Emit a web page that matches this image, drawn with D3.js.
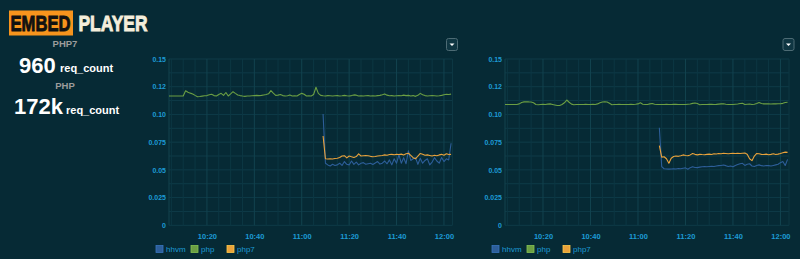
<!DOCTYPE html>
<html>
<head>
<meta charset="utf-8">
<script src="https://cdn.jsdelivr.net/npm/d3@7"></script>
<style>
body { margin: 0; background: #062a35; }
svg text { font-family: "Liberation Sans", Arial, sans-serif; }
</style>
</head>
<body>
<svg id="chart" width="800" height="259"></svg>
<script>
// series names and colours
const seriesNames = ["hhvm", "php", "php7"];
const seriesColors = ["#2d5e99", "#6b9e43", "#e9a23b"];

// time axis
const startTime = "10:04";     // first php sample
const newStart = "11:09";      // first hhvm / php7 sample
const endTime = "12:03.6";
const xTickLabels = ["10:20", "10:40", "11:00", "11:20", "11:40", "12:00"];
const yTicks = [0, 0.025, 0.05, 0.075, 0.1, 0.125, 0.15];
const yTickLabels = ["0", "0.025", "0.05", "0.075", "0.10", "0.12", "0.15"];

// left panel (one value per minute)
const php1 = [
  0.1166, 0.1166, 0.1166, 0.1166, 0.1166, 0.1166, 0.1166, 0.1214, 0.1200, 0.1192,
  0.1185, 0.1172, 0.1160, 0.1162, 0.1165, 0.1168, 0.1170, 0.1178, 0.1182, 0.1170,
  0.1166, 0.1180, 0.1190, 0.1172, 0.1198, 0.1166, 0.1185, 0.1205, 0.1190, 0.1176,
  0.1170, 0.1166, 0.1163, 0.1166, 0.1166, 0.1168, 0.1170, 0.1172, 0.1170, 0.1172,
  0.1176, 0.1180, 0.1186, 0.1215, 0.1192, 0.1172, 0.1174, 0.1180, 0.1170, 0.1166,
  0.1168, 0.1176, 0.1166, 0.1168, 0.1166, 0.1180, 0.1190, 0.1182, 0.1166, 0.1168,
  0.1166, 0.1180, 0.1245, 0.1190, 0.1172, 0.1168, 0.1166, 0.1170, 0.1168, 0.1166,
  0.1168, 0.1170, 0.1166, 0.1168, 0.1172, 0.1168, 0.1166, 0.1170, 0.1176, 0.1174,
  0.1166, 0.1168, 0.1166, 0.1168, 0.1170, 0.1166, 0.1168, 0.1166, 0.1170, 0.1172,
  0.1178, 0.1185, 0.1174, 0.1168, 0.1170, 0.1166, 0.1168, 0.1170, 0.1168, 0.1174,
  0.1170, 0.1172, 0.1166, 0.1170, 0.1163, 0.1172, 0.1190, 0.1178, 0.1170, 0.1166,
  0.1168, 0.1170, 0.1168, 0.1166, 0.1168, 0.1172, 0.1178, 0.1182, 0.1180, 0.1183
];
const php7_1 = [
  0.0805, 0.0600, 0.0598, 0.0600, 0.0598, 0.0603, 0.0605, 0.0612, 0.0625, 0.0628,
  0.0608, 0.0625, 0.0618, 0.0612, 0.0620, 0.0645, 0.0625, 0.0628, 0.0630, 0.0628,
  0.0622, 0.0618, 0.0620, 0.0625, 0.0628, 0.0630, 0.0635, 0.0632, 0.0638, 0.0640,
  0.0636, 0.0640, 0.0638, 0.0642, 0.0635, 0.0645, 0.0650, 0.0630, 0.0610, 0.0600,
  0.0625, 0.0648, 0.0640, 0.0632, 0.0635, 0.0630, 0.0625, 0.0632, 0.0628, 0.0635,
  0.0640, 0.0632, 0.0645, 0.0638, 0.0640
];
const hhvm1 = [
  0.1004, 0.0560, 0.0545, 0.0535, 0.0550, 0.0540, 0.0545, 0.0560, 0.0540, 0.0575,
  0.0550, 0.0545, 0.0580, 0.0550, 0.0570, 0.0545, 0.0560, 0.0565, 0.0550, 0.0555,
  0.0560, 0.0548, 0.0562, 0.0575, 0.0552, 0.0560, 0.0580, 0.0555, 0.0590, 0.0545,
  0.0600, 0.0560, 0.0635, 0.0560, 0.0610, 0.0555, 0.0672, 0.0585, 0.0600, 0.0610,
  0.0550, 0.0605, 0.0560, 0.0585, 0.0600, 0.0545, 0.0570, 0.0610, 0.0580, 0.0560,
  0.0612, 0.0575, 0.0600, 0.0590, 0.0740
];

// right panel
const php2 = [
  0.1090, 0.1089, 0.1090, 0.1089, 0.1090, 0.1090, 0.1095, 0.1108, 0.1113, 0.1115,
  0.1113, 0.1112, 0.1105, 0.1090, 0.1088, 0.1090, 0.1092, 0.1090, 0.1093, 0.1095,
  0.1090, 0.1085, 0.1080, 0.1080, 0.1090, 0.1105, 0.1130, 0.1110, 0.1093, 0.1088,
  0.1090, 0.1090, 0.1089, 0.1090, 0.1091, 0.1090, 0.1090, 0.1092, 0.1090, 0.1095,
  0.1105, 0.1112, 0.1115, 0.1112, 0.1100, 0.1088, 0.1090, 0.1090, 0.1091, 0.1090,
  0.1089, 0.1090, 0.1090, 0.1091, 0.1090, 0.1092, 0.1095, 0.1105, 0.1092, 0.1090,
  0.1090, 0.1095, 0.1098, 0.1092, 0.1090, 0.1089, 0.1090, 0.1090, 0.1091, 0.1090,
  0.1090, 0.1091, 0.1092, 0.1090, 0.1090, 0.1089, 0.1090, 0.1092, 0.1094, 0.1100,
  0.1103, 0.1098, 0.1088, 0.1089, 0.1090, 0.1090, 0.1091, 0.1092, 0.1090, 0.1091,
  0.1093, 0.1095, 0.1096, 0.1092, 0.1090, 0.1089, 0.1090, 0.1092, 0.1094, 0.1098,
  0.1100, 0.1090, 0.1092, 0.1094, 0.1090, 0.1092, 0.1098, 0.1108, 0.1098, 0.1095,
  0.1096, 0.1095, 0.1094, 0.1096, 0.1095, 0.1096, 0.1097, 0.1100, 0.1108, 0.1110
];
const php7_2 = [
  0.0718, 0.0615, 0.0618, 0.0600, 0.0560, 0.0605, 0.0620, 0.0625, 0.0622, 0.0628,
  0.0635, 0.0630, 0.0628, 0.0635, 0.0648, 0.0640, 0.0635, 0.0640, 0.0638, 0.0637,
  0.0640, 0.0642, 0.0638, 0.0645, 0.0643, 0.0648, 0.0646, 0.0650, 0.0648, 0.0645,
  0.0648, 0.0650, 0.0648, 0.0650, 0.0647, 0.0650, 0.0652, 0.0640, 0.0600, 0.0583,
  0.0625, 0.0648, 0.0645, 0.0640, 0.0638, 0.0642, 0.0636, 0.0640, 0.0645, 0.0638,
  0.0642, 0.0648, 0.0655, 0.0660, 0.0658
];
const hhvm2 = [
  0.0880, 0.0529, 0.0510, 0.0508, 0.0507, 0.0508, 0.0510, 0.0508, 0.0512, 0.0510,
  0.0515, 0.0518, 0.0505, 0.0520, 0.0528, 0.0522, 0.0520, 0.0525, 0.0528, 0.0530,
  0.0528, 0.0530, 0.0532, 0.0530, 0.0535, 0.0538, 0.0540, 0.0544, 0.0538, 0.0530,
  0.0535, 0.0528, 0.0540, 0.0548, 0.0555, 0.0559, 0.0540, 0.0550, 0.0555, 0.0535,
  0.0530, 0.0540, 0.0545, 0.0538, 0.0535, 0.0540, 0.0538, 0.0535, 0.0540, 0.0545,
  0.0550, 0.0565, 0.0575, 0.0540, 0.0595
];

const parseTime = s => {
  const [h, m] = s.split(":").map(Number);
  return new Date(2016, 0, 1, h, 0, m * 60);
};

const svg = d3.select("#chart");

// ---- left header ----
const head = svg.append("g");
head.append("rect").attr("x", 9).attr("y", 10.5).attr("width", 64).attr("height", 25).attr("fill", "#f7941d");

// condensed title: squeeze a bold face horizontally to the widths seen
function squeezed(x, y, w, fill, str) {
  const t = head.append("text").attr("y", y)
    .style("font-weight", "bold").style("font-size", "22px")
    .attr("fill", fill).attr("stroke", fill).attr("stroke-width", 0.9).text(str);
  const nat = t.node().getComputedTextLength();
  t.attr("transform", `translate(${x},0) scale(${w / nat},1)`);
}
squeezed(10.5, 31.5, 60, "#111", "EMBED");
squeezed(78.5, 31.5, 69, "#f4eedb", "PLAYER");

const stats = [
  { label: "PHP7", value: "960", labelY: 46.7, valueY: 72.5, valueX: 19, unitX: 60 },
  { label: "PHP", value: "172k", labelY: 89.3, valueY: 114, valueX: 14, unitX: 66 }
];
stats.forEach(s => {
  head.append("text").attr("x", 65).attr("y", s.labelY).attr("text-anchor", "middle")
    .style("font-size", "9.5px").style("font-weight", "bold").attr("fill", "#9c9c9c").text(s.label);
  head.append("text").attr("x", s.valueX).attr("y", s.valueY)
    .style("font-size", "22px").style("font-weight", "bold").attr("fill", "#fff").text(s.value);
  head.append("text").attr("x", s.unitX).attr("y", s.valueY - 0.5)
    .style("font-size", "11px").style("font-weight", "bold").attr("fill", "#fff").text("req_count");
});

// ---- panels ----
function drawPanel(left, right, data) {
  const top = 59, bottom = 225.3;
  const x = d3.scaleTime().domain([parseTime(startTime), parseTime(endTime)]).range([left, right]);
  const y = d3.scaleLinear().domain([0, 0.15]).range([bottom, top]);
  const g = svg.append("g");

  // grid
  const minorY = d3.range(0, 0.1501, 0.0125);
  g.selectAll(".hgrid").data(minorY).enter().append("line")
    .attr("x1", left).attr("x2", right).attr("y1", d => y(d)).attr("y2", d => y(d))
    .attr("stroke", "#0e3b48").attr("stroke-width", 1);
  const minorX = d3.timeMinute.every(5).range(x.domain()[0], x.domain()[1]);
  g.selectAll(".vgrid").data(minorX).enter().append("line")
    .attr("x1", d => x(d)).attr("x2", d => x(d)).attr("y1", top).attr("y2", bottom)
    .attr("stroke", d => d.getMinutes() % 20 === 0 ? "#12434f" : "#0c3743").attr("stroke-width", 1);
  g.append("line").attr("x1", left).attr("x2", left).attr("y1", top).attr("y2", bottom)
    .attr("stroke", "#12434f");
  g.append("line").attr("x1", right).attr("x2", right).attr("y1", top).attr("y2", bottom)
    .attr("stroke", "#0c3743");

  // axes
  const yAxis = d3.axisLeft(y).tickValues(yTicks).tickSize(0).tickPadding(3)
    .tickFormat((d, i) => yTickLabels[i]);
  g.append("g").attr("transform", `translate(${left},0)`).call(yAxis)
    .call(a => a.select(".domain").remove())
    .selectAll("text").style("font-size", "7px").style("font-weight", "bold")
    .style("font-family", "'Liberation Sans', Arial, sans-serif").attr("fill", "#1d9bd5");
  const xAxis = d3.axisBottom(x).tickValues(xTickLabels.map(parseTime)).tickSize(0).tickPadding(8)
    .tickFormat(d3.timeFormat("%H:%M"));
  g.append("g").attr("transform", `translate(0,${bottom})`).call(xAxis)
    .call(a => a.select(".domain").remove())
    .selectAll("text").style("font-size", "7.5px").style("font-weight", "bold")
    .style("font-family", "'Liberation Sans', Arial, sans-serif").attr("fill", "#1d9bd5");

  // lines
  const line = d3.line().x(d => x(d.t)).y(d => y(d.v));
  data.forEach(s => {
    const t0 = parseTime(s.start);
    const pts = s.values.map((v, i) => ({ t: d3.timeMinute.offset(t0, i), v }));
    g.append("path").datum(pts).attr("d", line).attr("fill", "none")
      .attr("stroke", seriesColors[seriesNames.indexOf(s.name)])
      .attr("stroke-width", 1.1).attr("stroke-linejoin", "round");
  });

  // legend
  const legX = [left - 13, left + 22, left + 58];
  seriesNames.forEach((n, i) => {
    g.append("rect").attr("x", legX[i]).attr("y", 245.5).attr("width", 7).attr("height", 7)
      .attr("fill", seriesColors[i]).attr("stroke", d3.color(seriesColors[i]).brighter(0.6)).attr("stroke-width", 0.8);
    g.append("text").attr("x", legX[i] + 10).attr("y", 252.2).style("font-size", "8px")
      .attr("fill", "#1d9bd5").text(n);
  });

  // dropdown button
  g.append("rect").attr("x", right - 6).attr("y", 38.5).attr("width", 11).attr("height", 12).attr("rx", 2)
    .attr("fill", "#0f3642").attr("stroke", "#4d6b74").attr("stroke-width", 1);
  g.append("path").attr("d", `M${right - 3},43.5 L${right + 2},43.5 L${right - 0.5},46 Z`).attr("fill", "#fff");
}

drawPanel(169, 452.5, [
  { name: "hhvm", start: newStart, values: hhvm1 },
  { name: "php", start: startTime, values: php1 },
  { name: "php7", start: newStart, values: php7_1 }
]);
drawPanel(505, 789, [
  { name: "hhvm", start: newStart, values: hhvm2 },
  { name: "php", start: startTime, values: php2 },
  { name: "php7", start: newStart, values: php7_2 }
]);
</script>
</body>
</html>
